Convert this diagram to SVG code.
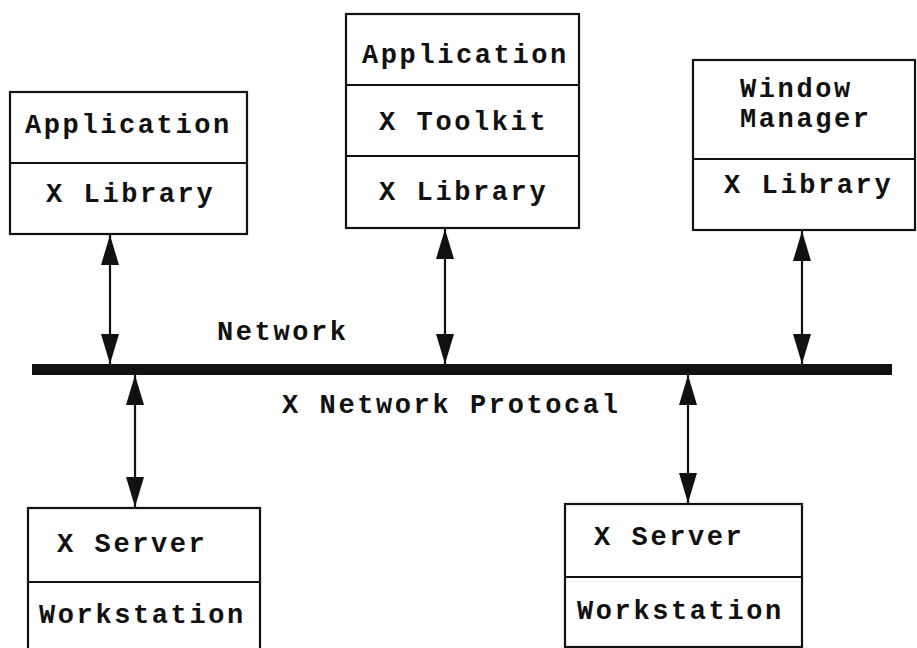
<svg xmlns="http://www.w3.org/2000/svg" width="917" height="648" viewBox="0 0 917 648">
<defs>
<style>
.box{fill:#fff;stroke:#111;stroke-width:2.2}
.div{stroke:#111;stroke-width:2.2}
.t{font-family:"Liberation Mono","Courier New",monospace;font-size:27px;font-weight:bold;letter-spacing:2.6px;fill:#111}
.c{stroke:#111;stroke-width:2.2;fill:none;marker-start:url(#ah);marker-end:url(#ah)}
</style>
<marker id="ah" viewBox="0 0 30 18" refX="30" refY="9" markerWidth="30" markerHeight="18" markerUnits="userSpaceOnUse" orient="auto-start-reverse">
<path d="M0,0 L30,9 L0,18 Z" fill="#111"/>
</marker>
</defs>
<rect width="917" height="648" fill="#fff"/>
<g id="connectors">
<rect x="32" y="364" width="860" height="11" fill="#111"/>
<line class="c" x1="110" y1="235" x2="110" y2="364"/>
<line class="c" x1="445" y1="229" x2="445" y2="364"/>
<line class="c" x1="802" y1="231" x2="802" y2="364"/>
<line class="c" x1="135" y1="375" x2="135" y2="507"/>
<line class="c" x1="688" y1="375" x2="688" y2="503"/>
</g>
<g id="net-label">
<text class="t" x="217" y="340">Network</text>
<text class="t" x="282" y="413">X Network Protocal</text>
</g>
<g id="client1">
<rect class="box" x="10" y="92" width="237" height="142"/>
<line class="div" x1="10" y1="163" x2="247" y2="163"/>
<text class="t" x="25" y="133">Application</text>
<text class="t" x="46" y="202">X Library</text>
</g>
<g id="client2">
<rect class="box" x="346" y="14" width="233" height="214"/>
<line class="div" x1="346" y1="85" x2="579" y2="85"/>
<line class="div" x1="346" y1="156" x2="579" y2="156"/>
<text class="t" x="362" y="63">Application</text>
<text class="t" x="379" y="130">X Toolkit</text>
<text class="t" x="379" y="200">X Library</text>
</g>
<g id="wm">
<rect class="box" x="693" y="60" width="222" height="170"/>
<line class="div" x1="693" y1="159" x2="915" y2="159"/>
<text class="t" x="740" y="97">Window</text>
<text class="t" x="740" y="127">Manager</text>
<text class="t" x="724" y="193">X Library</text>
</g>
<g id="server1">
<rect class="box" x="28" y="508" width="232" height="150"/>
<line class="div" x1="28" y1="582" x2="260" y2="582"/>
<text class="t" x="57" y="552">X Server</text>
<text class="t" x="39" y="623">Workstation</text>
</g>
<g id="server2">
<rect class="box" x="565" y="504" width="237" height="143"/>
<line class="div" x1="565" y1="577" x2="802" y2="577"/>
<text class="t" x="594" y="545">X Server</text>
<text class="t" x="577" y="619">Workstation</text>
</g>
</svg>
